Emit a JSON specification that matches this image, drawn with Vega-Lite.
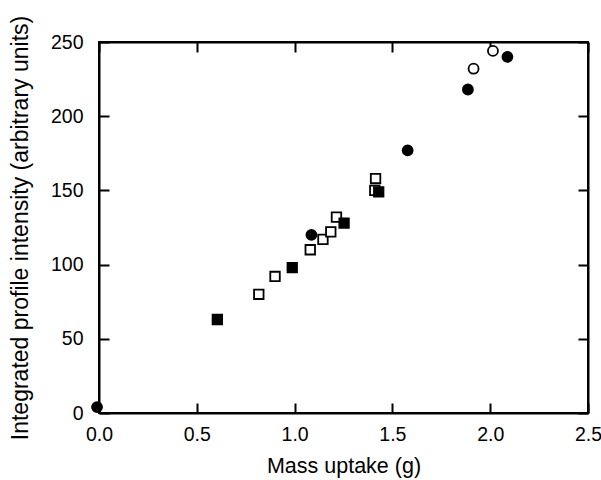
{
  "$schema": "https://vega.github.io/schema/vega-lite/v6.json",
  "width": 489,
  "height": 371,
  "autosize": {"type": "none"},
  "padding": {"left": 99, "top": 42, "right": 13, "bottom": 67},
  "background": "white",
  "config": {
    "view": {"stroke": "black", "strokeWidth": 2},
    "font": "Liberation Sans",
    "axis": {
      "grid": false,
      "domainColor": "black",
      "domainWidth": 2,
      "tickColor": "black",
      "tickWidth": 2,
      "tickSize": -10,
      "labelColor": "black",
      "labelFontSize": 19.5,
      "titleColor": "black",
      "titleFontSize": 21.5,
      "titleFontWeight": "normal",
      "labelFlush": false,
      "labelOverlap": false
    }
  },
  "data": {
    "values": [
      {"x": -0.01, "y": 4, "symbol": "circle", "style": "filled"},
      {"x": 0.605, "y": 63, "symbol": "square", "style": "filled"},
      {"x": 0.817, "y": 80, "symbol": "square", "style": "open"},
      {"x": 0.9, "y": 92, "symbol": "square", "style": "open"},
      {"x": 0.988, "y": 98, "symbol": "square", "style": "filled"},
      {"x": 1.08, "y": 110, "symbol": "square", "style": "open"},
      {"x": 1.086, "y": 120, "symbol": "circle", "style": "filled"},
      {"x": 1.145, "y": 117, "symbol": "square", "style": "open"},
      {"x": 1.185, "y": 122, "symbol": "square", "style": "open"},
      {"x": 1.214, "y": 132, "symbol": "square", "style": "open"},
      {"x": 1.253, "y": 128, "symbol": "square", "style": "filled"},
      {"x": 1.41, "y": 150, "symbol": "square", "style": "open"},
      {"x": 1.414, "y": 158, "symbol": "square", "style": "open"},
      {"x": 1.43, "y": 149, "symbol": "square", "style": "filled"},
      {"x": 1.578, "y": 177, "symbol": "circle", "style": "filled"},
      {"x": 1.886, "y": 218, "symbol": "circle", "style": "filled"},
      {"x": 1.915, "y": 232, "symbol": "circle", "style": "open"},
      {"x": 2.014, "y": 244, "symbol": "circle", "style": "open"},
      {"x": 2.088, "y": 240, "symbol": "circle", "style": "filled"}
    ]
  },
  "layer": [
    {
      "mark": {"type": "point", "filled": true, "stroke": "black", "strokeWidth": 1.8, "opacity": 1},
      "encoding": {
        "x": {
          "field": "x", "type": "quantitative",
          "scale": {"domain": [0, 2.5], "nice": false, "zero": false},
          "axis": {"orient": "bottom", "values": [0, 0.5, 1, 1.5, 2, 2.5], "format": ".1f", "title": "Mass uptake (g)", "labelPadding": 22, "titlePadding": 12}
        },
        "y": {
          "field": "y", "type": "quantitative",
          "scale": {"domain": [0, 250], "nice": false},
          "axis": {"orient": "left", "values": [0, 50, 100, 150, 200, 250], "title": "Integrated profile intensity (arbitrary units)", "titleFontSize": 23, "labelPadding": 26, "titlePadding": 18}
        },
        "shape": {"field": "symbol", "type": "nominal", "scale": {"domain": ["circle", "square"], "range": ["circle", "square"]}, "legend": null},
        "fill": {"field": "style", "type": "nominal", "scale": {"domain": ["filled", "open"], "range": ["black", "white"]}, "legend": null},
        "size": {"field": "symbol", "type": "nominal", "scale": {"domain": ["circle", "square"], "range": [100, 90]}, "legend": null}
      }
    },
    {
      "mark": {"type": "point", "opacity": 0},
      "encoding": {
        "x": {"field": "x", "type": "quantitative", "axis": {"orient": "top", "values": [0, 0.5, 1, 1.5, 2, 2.5], "labels": false, "title": null}},
        "y": {"field": "y", "type": "quantitative", "axis": {"orient": "right", "values": [0, 50, 100, 150, 200, 250], "labels": false, "title": null}}
      }
    }
  ],
  "resolve": {"axis": {"x": "independent", "y": "independent"}}
}
